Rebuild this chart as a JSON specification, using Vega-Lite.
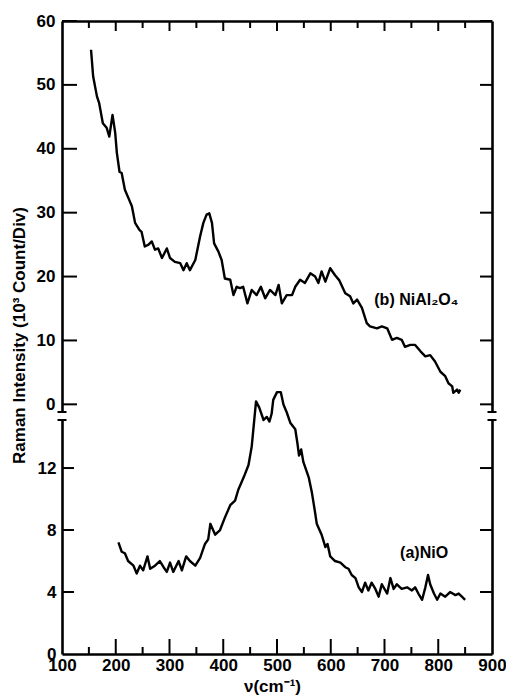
{
  "$schema": "https://vega.github.io/schema/vega-lite/v6.json",
  "width": 430,
  "height": 633,
  "autosize": {"type": "none"},
  "padding": {"left": 62, "top": 21, "right": 14, "bottom": 41},
  "background": "white",
  "config": {
    "view": {"stroke": null},
    "tick": {"color": "black", "opacity": 1, "thickness": 2},
    "rule": {"color": "black", "opacity": 1, "strokeWidth": 2},
    "axis": {
      "labelFont": "Liberation Sans",
      "titleFont": "Liberation Sans",
      "labelFontWeight": "bold",
      "titleFontWeight": "bold",
      "labelColor": "black",
      "titleColor": "black",
      "domainColor": "black",
      "domainWidth": 2.6,
      "ticks": false,
      "grid": false,
      "labelFlush": false,
      "labelOverlap": false,
      "labelFontSize": 17,
      "titleFontSize": 17
    }
  },
  "datasets": {
    "b": [
      {"x":154,"y":55.5},{"x":158,"y":51.3},{"x":165,"y":48.2},{"x":169,"y":47.2},{"x":176,"y":44.0},{"x":183,"y":43.3},{"x":188,"y":41.9},{"x":194,"y":45.3},{"x":199,"y":42.5},{"x":202,"y":39.4},{"x":207,"y":36.4},{"x":211,"y":36.2},{"x":217,"y":33.6},{"x":225,"y":32.0},{"x":230,"y":31.0},{"x":236,"y":28.4},{"x":244,"y":27.3},{"x":248,"y":27.0},{"x":254,"y":24.7},{"x":261,"y":25.0},{"x":267,"y":25.5},{"x":273,"y":24.2},{"x":279,"y":24.4},{"x":286,"y":22.9},{"x":295,"y":24.4},{"x":301,"y":22.9},{"x":310,"y":22.3},{"x":320,"y":22.1},{"x":326,"y":21.0},{"x":332,"y":22.1},{"x":338,"y":21.0},{"x":348,"y":22.6},{"x":357,"y":26.3},{"x":363,"y":28.4},{"x":369,"y":29.7},{"x":374,"y":29.9},{"x":379,"y":28.4},{"x":383,"y":25.2},{"x":391,"y":23.9},{"x":397,"y":22.6},{"x":403,"y":19.7},{"x":413,"y":19.5},{"x":419,"y":17.1},{"x":425,"y":18.4},{"x":431,"y":18.2},{"x":437,"y":18.4},{"x":445,"y":15.8},{"x":453,"y":17.9},{"x":462,"y":17.1},{"x":470,"y":18.4},{"x":478,"y":16.6},{"x":487,"y":17.9},{"x":497,"y":17.1},{"x":503,"y":18.7},{"x":509,"y":15.8},{"x":518,"y":17.1},{"x":528,"y":17.1},{"x":534,"y":18.4},{"x":543,"y":19.5},{"x":552,"y":19.0},{"x":562,"y":20.5},{"x":571,"y":20.0},{"x":577,"y":19.0},{"x":583,"y":20.8},{"x":590,"y":19.2},{"x":599,"y":21.3},{"x":608,"y":20.2},{"x":616,"y":19.4},{"x":627,"y":17.4},{"x":636,"y":16.9},{"x":642,"y":15.8},{"x":649,"y":16.4},{"x":658,"y":15.1},{"x":667,"y":12.7},{"x":673,"y":12.2},{"x":686,"y":11.9},{"x":695,"y":12.2},{"x":705,"y":11.9},{"x":714,"y":10.1},{"x":723,"y":10.4},{"x":732,"y":10.1},{"x":738,"y":9.0},{"x":748,"y":9.3},{"x":757,"y":9.3},{"x":767,"y":8.3},{"x":776,"y":7.5},{"x":785,"y":7.7},{"x":794,"y":6.7},{"x":804,"y":5.1},{"x":813,"y":4.4},{"x":819,"y":3.3},{"x":826,"y":2.8},{"x":828,"y":1.8},{"x":835,"y":2.3},{"x":838,"y":1.8},{"x":841,"y":2.3}
    ],
    "a": [
      {"x":205,"y":7.2},{"x":211,"y":6.6},{"x":217,"y":6.5},{"x":223,"y":6.0},{"x":233,"y":5.7},{"x":239,"y":5.2},{"x":245,"y":5.7},{"x":251,"y":5.4},{"x":259,"y":6.3},{"x":264,"y":5.5},{"x":273,"y":5.7},{"x":282,"y":6.0},{"x":289,"y":5.6},{"x":295,"y":5.3},{"x":301,"y":5.9},{"x":307,"y":5.3},{"x":317,"y":6.0},{"x":323,"y":5.4},{"x":331,"y":6.3},{"x":338,"y":6.0},{"x":348,"y":5.7},{"x":357,"y":6.2},{"x":366,"y":7.1},{"x":372,"y":7.4},{"x":376,"y":8.4},{"x":385,"y":7.7},{"x":394,"y":8.0},{"x":403,"y":8.8},{"x":413,"y":9.6},{"x":422,"y":9.9},{"x":428,"y":10.6},{"x":438,"y":11.4},{"x":447,"y":12.2},{"x":453,"y":13.4},{"x":461,"y":16.3},{"x":467,"y":15.9},{"x":475,"y":15.1},{"x":481,"y":15.3},{"x":486,"y":15.0},{"x":490,"y":15.5},{"x":493,"y":16.4},{"x":500,"y":16.9},{"x":507,"y":16.9},{"x":512,"y":16.1},{"x":518,"y":15.6},{"x":525,"y":14.9},{"x":534,"y":14.5},{"x":538,"y":13.6},{"x":541,"y":12.8},{"x":545,"y":13.2},{"x":549,"y":12.4},{"x":559,"y":11.4},{"x":565,"y":10.4},{"x":571,"y":9.1},{"x":574,"y":8.4},{"x":583,"y":7.7},{"x":590,"y":6.9},{"x":594,"y":7.1},{"x":599,"y":6.3},{"x":608,"y":6.0},{"x":618,"y":5.9},{"x":627,"y":5.6},{"x":633,"y":5.5},{"x":639,"y":5.1},{"x":646,"y":4.9},{"x":652,"y":4.3},{"x":658,"y":4.0},{"x":664,"y":4.6},{"x":670,"y":4.1},{"x":676,"y":4.6},{"x":683,"y":4.2},{"x":689,"y":3.7},{"x":695,"y":4.5},{"x":705,"y":3.9},{"x":711,"y":4.9},{"x":717,"y":4.2},{"x":723,"y":4.5},{"x":732,"y":4.2},{"x":742,"y":4.3},{"x":751,"y":4.1},{"x":757,"y":4.3},{"x":763,"y":3.9},{"x":770,"y":3.5},{"x":776,"y":4.3},{"x":781,"y":5.1},{"x":785,"y":4.5},{"x":792,"y":3.9},{"x":798,"y":3.5},{"x":804,"y":3.9},{"x":813,"y":3.7},{"x":822,"y":4.0},{"x":832,"y":3.8},{"x":838,"y":3.9},{"x":844,"y":3.7},{"x":850,"y":3.5}
    ],
    "labB": [{"x": 681, "y": 16.3, "label": "(b) NiAl₂O₄"}],
    "labA": [{"x": 729, "y": 6.5, "label": "(a)NiO"}],
    "upLeft": [{"x":100,"y":0},{"x":100,"y":10},{"x":100,"y":20},{"x":100,"y":30},{"x":100,"y":40},{"x":100,"y":50},{"x":100,"y":60}],
    "upRight": [{"x":900,"y":0},{"x":900,"y":10},{"x":900,"y":20},{"x":900,"y":30},{"x":900,"y":40},{"x":900,"y":50},{"x":900,"y":60}],
    "topMajor": [{"x":200,"y":60},{"x":300,"y":60},{"x":400,"y":60},{"x":500,"y":60},{"x":600,"y":60},{"x":700,"y":60},{"x":800,"y":60}],
    "topMinor": [{"x":150,"y":60},{"x":250,"y":60},{"x":350,"y":60},{"x":450,"y":60},{"x":550,"y":60},{"x":650,"y":60},{"x":750,"y":60},{"x":850,"y":60}],
    "upCaps": [{"x":100,"y":-1.2},{"x":900,"y":-1.2}],
    "loLeft": [{"x":100,"y":4},{"x":100,"y":8},{"x":100,"y":12}],
    "loRight": [{"x":900,"y":4},{"x":900,"y":8},{"x":900,"y":12}],
    "botMajor": [{"x":200,"y":0},{"x":300,"y":0},{"x":400,"y":0},{"x":500,"y":0},{"x":600,"y":0},{"x":700,"y":0},{"x":800,"y":0}],
    "botMinor": [{"x":150,"y":0},{"x":250,"y":0},{"x":350,"y":0},{"x":450,"y":0},{"x":550,"y":0},{"x":650,"y":0},{"x":750,"y":0},{"x":850,"y":0}],
    "loCaps": [{"x":100,"y":15.1},{"x":900,"y":15.1}]
  },
  "layer": [
    {
      "data": {"name": "b"},
      "mark": {"type": "line", "color": "black", "strokeWidth": 2.4, "strokeJoin": "round"},
      "encoding": {
        "x": {"field": "x", "type": "quantitative", "scale": {"domain": [100, 900], "nice": false},
              "axis": {"orient": "top", "labels": false, "title": null}},
        "y": {"field": "y", "type": "quantitative", "scale": {"domain": [-1.2, 60], "range": [391, 0], "nice": false, "zero": false},
              "axis": {"orient": "left", "values": [0,10,20,30,40,50,60], "labelPadding": 7,
                       "title": "Raman Intensity (10³ Count/Div)", "titleX": -43, "titleY": 314, "titleAngle": -90,
                       "titleBaseline": "middle", "titleAlign": "center"}}
      }
    },
    {
      "data": {"name": "labB"},
      "mark": {"type": "text", "align": "left", "baseline": "middle", "font": "Liberation Sans", "fontWeight": "bold", "fontSize": 16, "color": "black"},
      "encoding": {
        "x": {"field": "x", "type": "quantitative", "scale": {"domain": [100, 900], "nice": false}, "axis": null},
        "y": {"field": "y", "type": "quantitative", "scale": {"domain": [-1.2, 60], "range": [391, 0], "nice": false, "zero": false},
              "axis": {"orient": "right", "labels": false, "title": null}},
        "text": {"field": "label"}
      }
    },
    {
      "data": {"name": "a"},
      "mark": {"type": "line", "color": "black", "strokeWidth": 2.4, "strokeJoin": "round"},
      "encoding": {
        "x": {"field": "x", "type": "quantitative", "scale": {"domain": [100, 900], "nice": false},
              "axis": {"orient": "bottom", "values": [100,200,300,400,500,600,700,800,900], "labelPadding": 3,
                       "title": "ν(cm⁻¹)", "titleX": 210, "titleY": 32, "titleBaseline": "middle", "titleAlign": "center"}},
        "y": {"field": "y", "type": "quantitative", "scale": {"domain": [0, 15.1], "range": [633, 399], "nice": false, "zero": false},
              "axis": {"orient": "left", "values": [0,4,8,12], "labelPadding": 6, "title": null}}
      }
    },
    {
      "data": {"name": "labA"},
      "mark": {"type": "text", "align": "left", "baseline": "middle", "font": "Liberation Sans", "fontWeight": "bold", "fontSize": 16, "color": "black"},
      "encoding": {
        "x": {"field": "x", "type": "quantitative", "scale": {"domain": [100, 900], "nice": false}, "axis": null},
        "y": {"field": "y", "type": "quantitative", "scale": {"domain": [0, 15.1], "range": [633, 399], "nice": false, "zero": false},
              "axis": {"orient": "right", "labels": false, "title": null}},
        "text": {"field": "label"}
      }
    },
    {
      "data": {"name": "upLeft"},
      "mark": {"type": "rule", "x2Offset": 15},
      "encoding": {
        "x": {"field": "x", "type": "quantitative", "scale": {"domain": [100, 900], "nice": false}, "axis": null},
        "x2": {"field": "x"},
        "y": {"field": "y", "type": "quantitative", "scale": {"domain": [-1.2, 60], "range": [391, 0], "nice": false, "zero": false}, "axis": null}
      }
    },
    {
      "data": {"name": "upRight"},
      "mark": {"type": "rule", "x2Offset": -12},
      "encoding": {
        "x": {"field": "x", "type": "quantitative", "scale": {"domain": [100, 900], "nice": false}, "axis": null},
        "x2": {"field": "x"},
        "y": {"field": "y", "type": "quantitative", "scale": {"domain": [-1.2, 60], "range": [391, 0], "nice": false, "zero": false}, "axis": null}
      }
    },
    {
      "data": {"name": "topMajor"},
      "mark": {"type": "rule", "y2Offset": 10},
      "encoding": {
        "x": {"field": "x", "type": "quantitative", "scale": {"domain": [100, 900], "nice": false}, "axis": null},
        "y": {"field": "y", "type": "quantitative", "scale": {"domain": [-1.2, 60], "range": [391, 0], "nice": false, "zero": false}, "axis": null},
        "y2": {"field": "y"}
      }
    },
    {
      "data": {"name": "topMinor"},
      "mark": {"type": "rule", "y2Offset": 7},
      "encoding": {
        "x": {"field": "x", "type": "quantitative", "scale": {"domain": [100, 900], "nice": false}, "axis": null},
        "y": {"field": "y", "type": "quantitative", "scale": {"domain": [-1.2, 60], "range": [391, 0], "nice": false, "zero": false}, "axis": null},
        "y2": {"field": "y"}
      }
    },
    {
      "data": {"name": "upCaps"},
      "mark": {"type": "tick", "orient": "horizontal", "size": 9},
      "encoding": {
        "x": {"field": "x", "type": "quantitative", "scale": {"domain": [100, 900], "nice": false}, "axis": null},
        "y": {"field": "y", "type": "quantitative", "scale": {"domain": [-1.2, 60], "range": [391, 0], "nice": false, "zero": false}, "axis": null}
      }
    },
    {
      "data": {"name": "loLeft"},
      "mark": {"type": "rule", "x2Offset": 12},
      "encoding": {
        "x": {"field": "x", "type": "quantitative", "scale": {"domain": [100, 900], "nice": false}, "axis": null},
        "x2": {"field": "x"},
        "y": {"field": "y", "type": "quantitative", "scale": {"domain": [0, 15.1], "range": [633, 399], "nice": false, "zero": false}, "axis": null}
      }
    },
    {
      "data": {"name": "loRight"},
      "mark": {"type": "rule", "x2Offset": -12},
      "encoding": {
        "x": {"field": "x", "type": "quantitative", "scale": {"domain": [100, 900], "nice": false}, "axis": null},
        "x2": {"field": "x"},
        "y": {"field": "y", "type": "quantitative", "scale": {"domain": [0, 15.1], "range": [633, 399], "nice": false, "zero": false}, "axis": null}
      }
    },
    {
      "data": {"name": "botMajor"},
      "mark": {"type": "rule", "y2Offset": -15},
      "encoding": {
        "x": {"field": "x", "type": "quantitative", "scale": {"domain": [100, 900], "nice": false}, "axis": null},
        "y": {"field": "y", "type": "quantitative", "scale": {"domain": [0, 15.1], "range": [633, 399], "nice": false, "zero": false}, "axis": null},
        "y2": {"field": "y"}
      }
    },
    {
      "data": {"name": "botMinor"},
      "mark": {"type": "rule", "y2Offset": -7},
      "encoding": {
        "x": {"field": "x", "type": "quantitative", "scale": {"domain": [100, 900], "nice": false}, "axis": null},
        "y": {"field": "y", "type": "quantitative", "scale": {"domain": [0, 15.1], "range": [633, 399], "nice": false, "zero": false}, "axis": null},
        "y2": {"field": "y"}
      }
    },
    {
      "data": {"name": "loCaps"},
      "mark": {"type": "tick", "orient": "horizontal", "size": 9},
      "encoding": {
        "x": {"field": "x", "type": "quantitative", "scale": {"domain": [100, 900], "nice": false}, "axis": null},
        "y": {"field": "y", "type": "quantitative", "scale": {"domain": [0, 15.1], "range": [633, 399], "nice": false, "zero": false}, "axis": null}
      }
    }
  ],
  "resolve": {"scale": {"y": "independent"}, "axis": {"x": "independent", "y": "independent"}}
}
